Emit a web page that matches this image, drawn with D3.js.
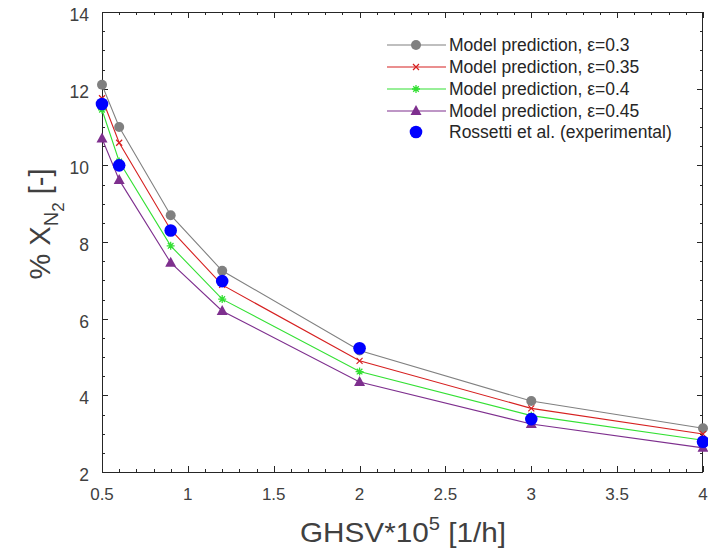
<!DOCTYPE html>
<html><head><meta charset="utf-8">
<script src="https://cdn.jsdelivr.net/npm/d3@7"></script>
<style>body{margin:0;background:#fff}svg{display:block}text{font-family:"Liberation Sans",Arial,sans-serif}</style>
</head><body><svg id="c" width="708" height="554"></svg>
<script>
const ghsv = [0.5, 0.6, 0.9, 1.2, 2, 3, 4];
const eps030 = [12.1, 11.0, 8.70, 7.25, 5.17, 3.85, 3.14];
const eps035 = [11.75, 10.59, 8.32, 6.88, 4.90, 3.66, 2.99];
const eps040 = [11.45, 10.10, 7.90, 6.51, 4.62, 3.47, 2.83];
const eps045 = [10.70, 9.62, 7.46, 6.20, 4.35, 3.25, 2.63];
const expX = [0.5, 0.6, 0.9, 1.2, 2, 3, 4];
const expY = [11.6, 10.0, 8.3, 6.98, 5.23, 3.38, 2.79];
const xTicks = [0.5, 1, 1.5, 2, 2.5, 3, 3.5, 4];
const yTicks = [2, 4, 6, 8, 10, 12, 14];
const seriesNames = ["Model prediction, \u03b5=0.3", "Model prediction, \u03b5=0.35", "Model prediction, \u03b5=0.4", "Model prediction, \u03b5=0.45", "Rossetti et al. (experimental)"];

const svg = d3.select("#c");
const L = 102, R = 703, T = 12, B = 472;
const x = d3.scaleLinear().domain([0.5, 4]).range([L, R]);
const y = d3.scaleLinear().domain([2, 14]).range([B, T]);
const axisCol = "#262626", txtCol = "#404040";

// ticks
const minorX = d3.range(0.5, 4.0001, 0.1);
const minorY = d3.range(2, 14.0001, 0.5);
const tk = svg.append("g").attr("stroke", axisCol).attr("stroke-width", 1);
minorX.forEach(v => {
  const major = Math.abs(v * 2 - Math.round(v * 2)) < 1e-6;
  const len = major ? 6 : 3;
  const px = Math.round(x(v)) + 0.5;
  tk.append("line").attr("x1", px).attr("x2", px).attr("y1", B).attr("y2", B - len);
  tk.append("line").attr("x1", px).attr("x2", px).attr("y1", T).attr("y2", T + len);
});
minorY.forEach(v => {
  const major = Math.abs(v / 2 - Math.round(v / 2)) < 1e-6;
  const len = major ? 6 : 3;
  const py = Math.round(y(v)) + 0.5;
  tk.append("line").attr("y1", py).attr("y2", py).attr("x1", L).attr("x2", L + len);
  tk.append("line").attr("y1", py).attr("y2", py).attr("x1", R).attr("x2", R - len);
});
svg.append("rect").attr("x", L + 0.5).attr("y", T + 0.5).attr("width", R - L - 1).attr("height", B - T)
  .attr("fill", "none").attr("stroke", axisCol).attr("stroke-width", 1);

// tick labels
xTicks.forEach(v => svg.append("text").attr("x", x(v)).attr("y", B + 28).attr("text-anchor", "middle")
  .attr("font-size", 17).attr("fill", txtCol).text(v));
yTicks.forEach(v => svg.append("text").attr("x", L - 13).attr("y", y(v) + 9).attr("text-anchor", "end")
  .attr("font-size", 17.5).attr("fill", txtCol).text(v));

// axis titles
const xt = svg.append("text").attr("x", 403).attr("y", 542).attr("text-anchor", "middle")
  .attr("font-size", 28).attr("fill", txtCol).attr("textLength", 206).attr("lengthAdjust", "spacingAndGlyphs");
xt.append("tspan").text("GHSV*10");
xt.append("tspan").attr("dy", -12).attr("font-size", 19).text("5");
xt.append("tspan").attr("dy", 12).text(" [1/h]");

const yt = svg.append("text").attr("transform", "translate(50,224) rotate(-90)").attr("text-anchor", "middle")
  .attr("font-size", 29).attr("fill", txtCol);
yt.append("tspan").text("% X");
yt.append("tspan").attr("dy", 8).attr("font-size", 20).text("N");
yt.append("tspan").attr("dy", 6).attr("font-size", 17).text("2");
yt.append("tspan").attr("dy", -14).text(" [-]");

// series
const models = [
  {vals: eps030, color: "#808080", marker: "circle"},
  {vals: eps035, color: "#d62020", marker: "x"},
  {vals: eps040, color: "#33e033", marker: "star"},
  {vals: eps045, color: "#7e2f8e", marker: "tri"}
];
const line = d3.line().x(d => x(d[0])).y(d => y(d[1]));
function drawMarker(g, m, cx, cy, color) {
  if (m === "circle") g.append("circle").attr("cx", cx).attr("cy", cy).attr("r", 5).attr("fill", color);
  else if (m === "x") {
    g.append("path").attr("d", `M${cx-3},${cy-3}L${cx+3},${cy+3}M${cx-3},${cy+3}L${cx+3},${cy-3}`)
      .attr("stroke", color).attr("stroke-width", 1.2);
  } else if (m === "star") {
    const s = 4;
    g.append("path").attr("d", `M${cx-s},${cy}L${cx+s},${cy}M${cx},${cy-s}L${cx},${cy+s}M${cx-s*0.7},${cy-s*0.7}L${cx+s*0.7},${cy+s*0.7}M${cx-s*0.7},${cy+s*0.7}L${cx+s*0.7},${cy-s*0.7}`)
      .attr("stroke", color).attr("stroke-width", 1.3);
  } else if (m === "tri") {
    g.append("path").attr("d", `M${cx},${cy-6}L${cx+5.5},${cy+4}L${cx-5.5},${cy+4}Z`).attr("fill", color);
  } else if (m === "dot") {
    g.append("circle").attr("cx", cx).attr("cy", cy).attr("r", 6.3).attr("fill", color);
  }
}
const plot = svg.append("g");
models.forEach(s => {
  plot.append("path").datum(ghsv.map((g, i) => [g, s.vals[i]])).attr("d", line)
    .attr("fill", "none").attr("stroke", s.color).attr("stroke-width", 1.1);
});
models.forEach(s => {
  ghsv.forEach((g, i) => drawMarker(plot, s.marker, x(g), y(s.vals[i]), s.color));
});
expX.forEach((g, i) => drawMarker(plot, "dot", x(g), y(expY[i]), "#0000ff"));

// legend
const lg = svg.append("g");
const rowY = [45, 67, 89, 111, 132];
const legItems = models.map(m => ({color: m.color, marker: m.marker, line: true}))
  .concat([{color: "#0000ff", marker: "dot", line: false}]);
legItems.forEach((it, i) => {
  const ly = rowY[i];
  if (it.line) lg.append("line").attr("x1", 387).attr("x2", 446).attr("y1", ly).attr("y2", ly)
    .attr("stroke", it.color).attr("stroke-width", 1.1);
  drawMarker(lg, it.marker, 416, ly, it.color);
  lg.append("text").attr("x", 449).attr("y", ly + 6).attr("font-size", 17.5).attr("fill", "#262626").text(seriesNames[i]);
});
</script></body></html>
